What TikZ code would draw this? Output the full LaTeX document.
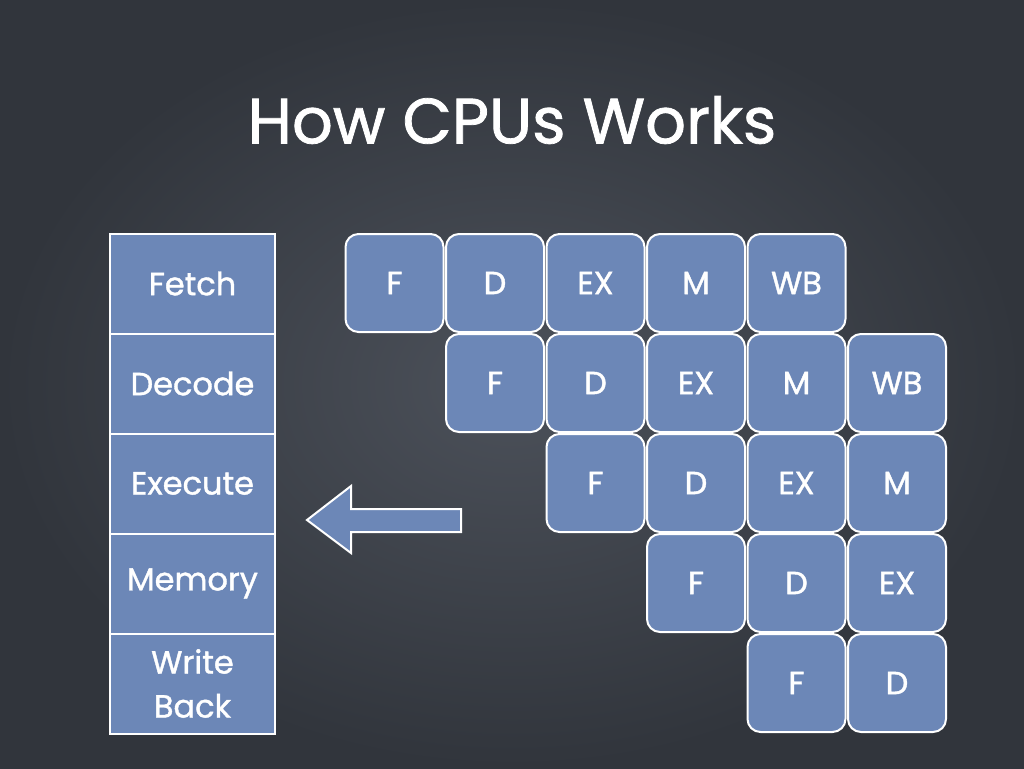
\documentclass[tikz,border=0pt]{standalone}
\usepackage{fontspec}
\setmainfont{Poppins}
\newfontfamily\labelfont{Poppins}[FakeBold=1.2]
\begin{document}
\begin{tikzpicture}[x=1pt,y=-1pt,
  stagebox/.style={draw=white,line width=2pt,fill=cellblue,minimum width=165pt,minimum height=100pt,inner sep=0pt,text=white,font=\labelfont\fontsize{32}{44}\selectfont,align=center},
  cell/.style={draw=white,line width=2pt,fill=cellblue,rounded corners=13pt,minimum width=98pt,minimum height=98pt,inner sep=0pt,text=white,font=\labelfont\fontsize{32}{36}\selectfont},
  arrowshape/.style={draw=white,line width=2pt,fill=cellblue,line join=miter}]
\definecolor{cellblue}{HTML}{6C87B7}
\definecolor{bgmid}{HTML}{4C515A}
\definecolor{bgedge}{HTML}{31353C}
\useasboundingbox (0,0) rectangle (1024,768);
\shade[inner color=bgmid,outer color=bgedge] (0,0) rectangle (1024,768);
\node[text=white,font=\labelfont\fontsize{64}{72}\selectfont] (title) at (512,120) {How CPUs Works};
% stage column
\node[stagebox] (fetch) at (192.5,283.5) {Fetch};
\node[stagebox] (decode) at (192.5,383.5) {Decode};
\node[stagebox] (execute) at (192.5,483.5) {Execute};
\node[stagebox] (memory) at (192.5,583.5) {Memory};
\node[stagebox] (writeback) at (192.5,683.5) {Write\\Back};
% pipeline grid
\foreach \r/\c/\t in {0/0/F,0/1/D,0/2/EX,0/3/M,0/4/WB,
                      1/1/F,1/2/D,1/3/EX,1/4/M,1/5/WB,
                      2/2/F,2/3/D,2/4/EX,2/5/M,
                      3/3/F,3/4/D,3/5/EX,
                      4/4/F,4/5/D}
  \node[cell] (c-\r-\c) at ({394.5+100.5*\c},{283+100*\r}) {\t};
% arrow
\draw[arrowshape] (461,509) -- (351,509) -- (351,486) -- (307,520) -- (351,553) -- (351,532) -- (461,532) -- cycle;
\end{tikzpicture}
\end{document}
